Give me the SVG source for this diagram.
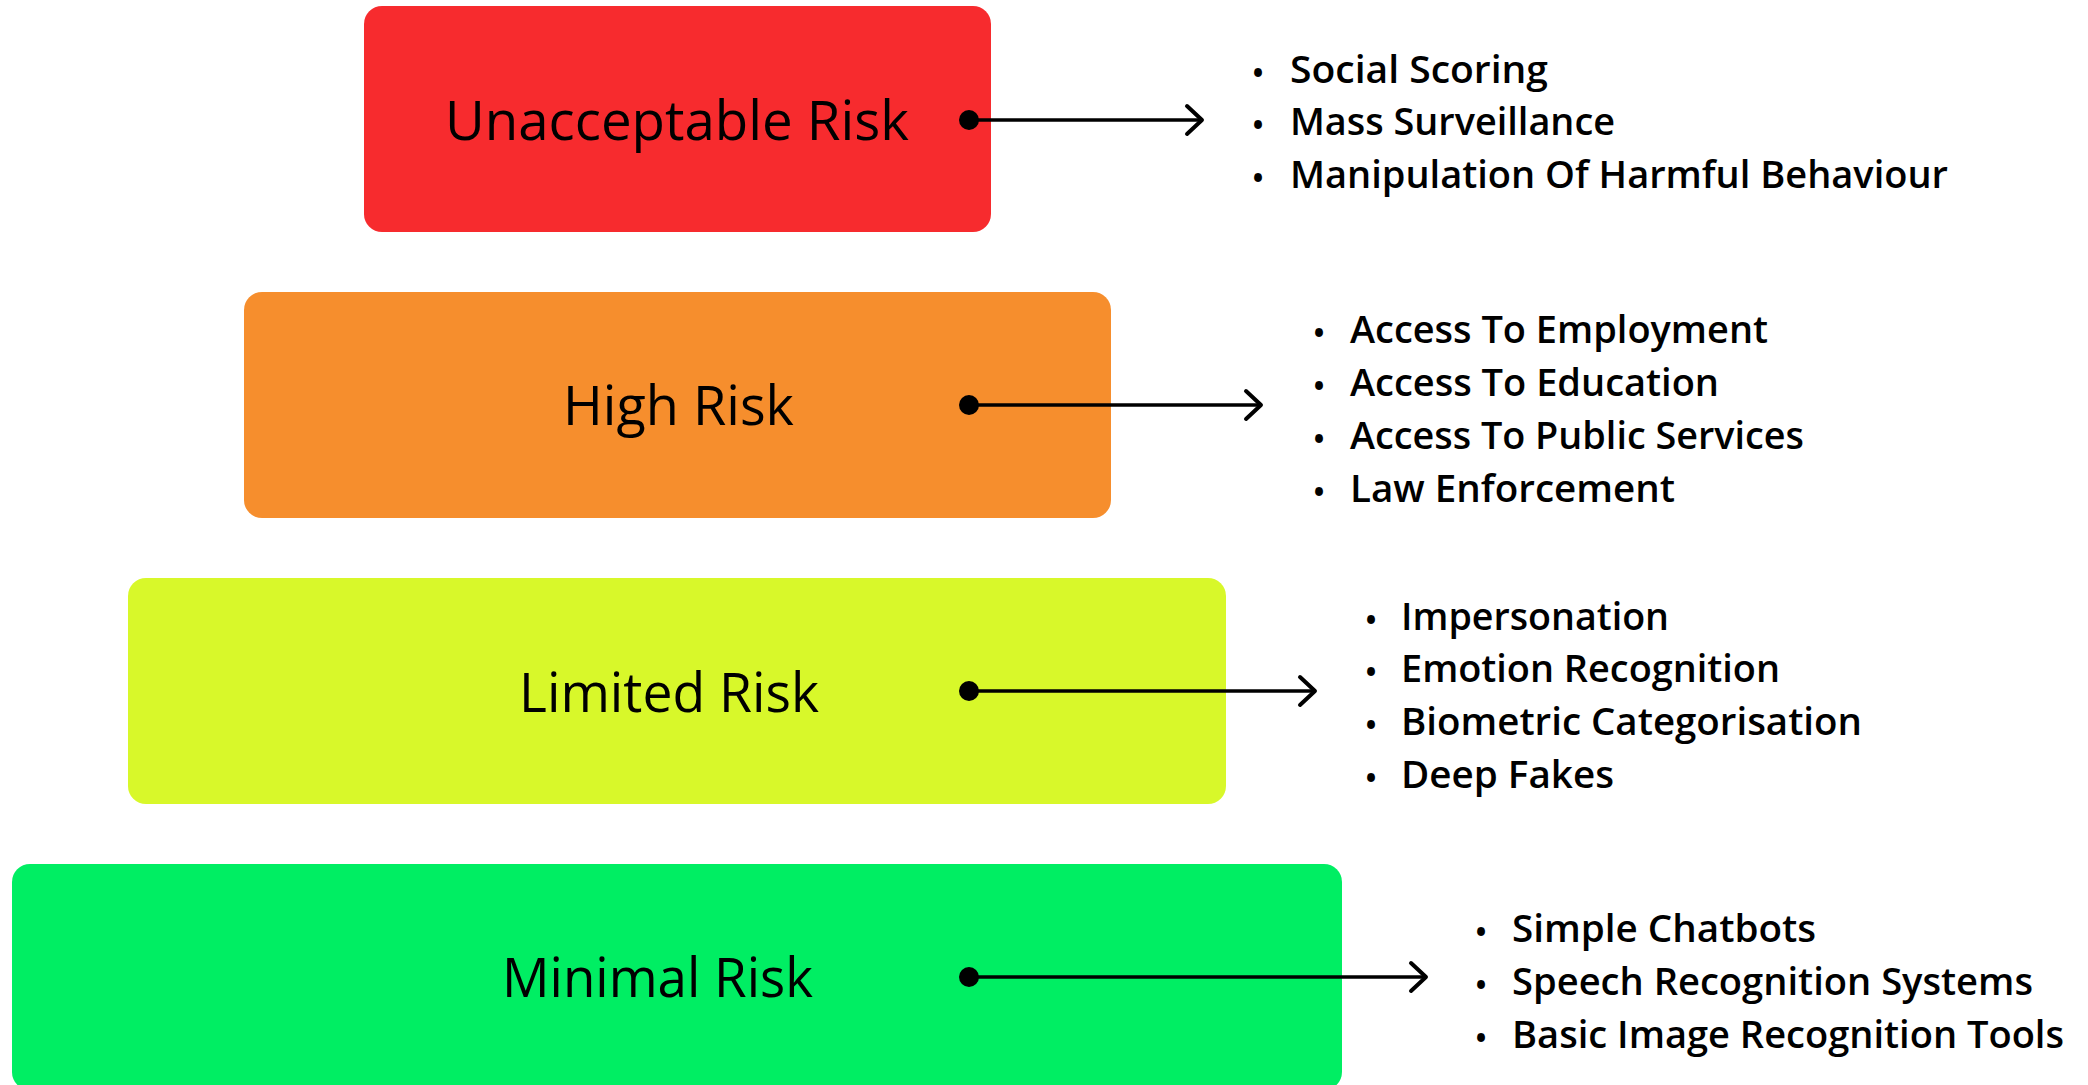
<svg xmlns="http://www.w3.org/2000/svg" width="2088" height="1085" viewBox="0 0 2088 1085">
  <style>
    .box { stroke: none; }
    .label { font-family: "Open Sans", "Liberation Sans", sans-serif; font-size: 55px; font-weight: 400; fill: #000; }
    .item { font-family: "Open Sans", "Liberation Sans", sans-serif; font-size: 38px; font-weight: 600; fill: #000; }
    .bullet { font-family: "Open Sans", "Liberation Sans", sans-serif; font-size: 28px; font-weight: 700; fill: #000; text-anchor: middle; }
    .conn { stroke: #000; stroke-width: 3.5; fill: none; }
    .dot { fill: #000; }
  </style>
  <defs>
    <marker id="chev" markerUnits="userSpaceOnUse" markerWidth="40" markerHeight="40" viewBox="-20 -20 40 40" refX="0" refY="0" orient="auto">
      <path d="M-15,-14 L0,0 L-15,14" fill="none" stroke="#000" stroke-width="4" stroke-linecap="round" stroke-linejoin="round"/>
    </marker>
  </defs>
  <rect width="2088" height="1085" fill="#ffffff"/>

  <g id="node-unacceptable">
    <rect class="box" x="364" y="6" width="627" height="226" rx="18" fill="#F72B2E"/>
    <text class="label" x="445" y="139.5" textLength="464" lengthAdjust="spacingAndGlyphs">Unacceptable Risk</text>
  </g>
  <g id="node-high">
    <rect class="box" x="244" y="292" width="867" height="226" rx="18" fill="#F68E2D"/>
    <text class="label" x="563" y="425" textLength="231" lengthAdjust="spacingAndGlyphs">High Risk</text>
  </g>
  <g id="node-limited">
    <rect class="box" x="128" y="578" width="1098" height="226" rx="18" fill="#D8F82A"/>
    <text class="label" x="519" y="711.5" textLength="300" lengthAdjust="spacingAndGlyphs">Limited Risk</text>
  </g>
  <g id="node-minimal">
    <rect class="box" x="12" y="864" width="1330" height="226" rx="18" fill="#00EE63"/>
    <text class="label" x="502" y="996.5" textLength="311" lengthAdjust="spacingAndGlyphs">Minimal Risk</text>
  </g>

  <g id="list-unacceptable">
    <text class="bullet" x="1258" y="83">•</text>
    <text class="item" x="1290" y="83" textLength="258" lengthAdjust="spacingAndGlyphs">Social Scoring</text>
    <text class="bullet" x="1258" y="135">•</text>
    <text class="item" x="1290" y="135" textLength="325" lengthAdjust="spacingAndGlyphs">Mass Surveillance</text>
    <text class="bullet" x="1258" y="188">•</text>
    <text class="item" x="1290" y="188" textLength="658" lengthAdjust="spacingAndGlyphs">Manipulation Of Harmful Behaviour</text>
  </g>
  <g id="list-high">
    <text class="bullet" x="1319" y="343">•</text>
    <text class="item" x="1350" y="343" textLength="418" lengthAdjust="spacingAndGlyphs">Access To Employment</text>
    <text class="bullet" x="1319" y="396">•</text>
    <text class="item" x="1350" y="396" textLength="369" lengthAdjust="spacingAndGlyphs">Access To Education</text>
    <text class="bullet" x="1319" y="449">•</text>
    <text class="item" x="1350" y="449" textLength="454" lengthAdjust="spacingAndGlyphs">Access To Public Services</text>
    <text class="bullet" x="1319" y="502">•</text>
    <text class="item" x="1350" y="502" textLength="325" lengthAdjust="spacingAndGlyphs">Law Enforcement</text>
  </g>
  <g id="list-limited">
    <text class="bullet" x="1371" y="630">•</text>
    <text class="item" x="1401" y="630" textLength="268" lengthAdjust="spacingAndGlyphs">Impersonation</text>
    <text class="bullet" x="1371" y="682">•</text>
    <text class="item" x="1401" y="682" textLength="379" lengthAdjust="spacingAndGlyphs">Emotion Recognition</text>
    <text class="bullet" x="1371" y="735">•</text>
    <text class="item" x="1401" y="735" textLength="461" lengthAdjust="spacingAndGlyphs">Biometric Categorisation</text>
    <text class="bullet" x="1371" y="788">•</text>
    <text class="item" x="1401" y="788" textLength="213" lengthAdjust="spacingAndGlyphs">Deep Fakes</text>
  </g>
  <g id="list-minimal">
    <text class="bullet" x="1481" y="942">•</text>
    <text class="item" x="1512" y="942" textLength="304" lengthAdjust="spacingAndGlyphs">Simple Chatbots</text>
    <text class="bullet" x="1481" y="995">•</text>
    <text class="item" x="1512" y="995" textLength="521" lengthAdjust="spacingAndGlyphs">Speech Recognition Systems</text>
    <text class="bullet" x="1481" y="1048">•</text>
    <text class="item" x="1512" y="1048" textLength="552" lengthAdjust="spacingAndGlyphs">Basic Image Recognition Tools</text>
  </g>

  <g id="connectors">
    <line class="conn" x1="969" y1="120" x2="1202" y2="120" marker-end="url(#chev)"/>
    <circle class="dot" cx="969" cy="120" r="10"/>
    <line class="conn" x1="969" y1="405" x2="1261" y2="405" marker-end="url(#chev)"/>
    <circle class="dot" cx="969" cy="405" r="10"/>
    <line class="conn" x1="969" y1="691" x2="1315" y2="691" marker-end="url(#chev)"/>
    <circle class="dot" cx="969" cy="691" r="10"/>
    <line class="conn" x1="969" y1="977" x2="1426" y2="977" marker-end="url(#chev)"/>
    <circle class="dot" cx="969" cy="977" r="10"/>
  </g>
</svg>
